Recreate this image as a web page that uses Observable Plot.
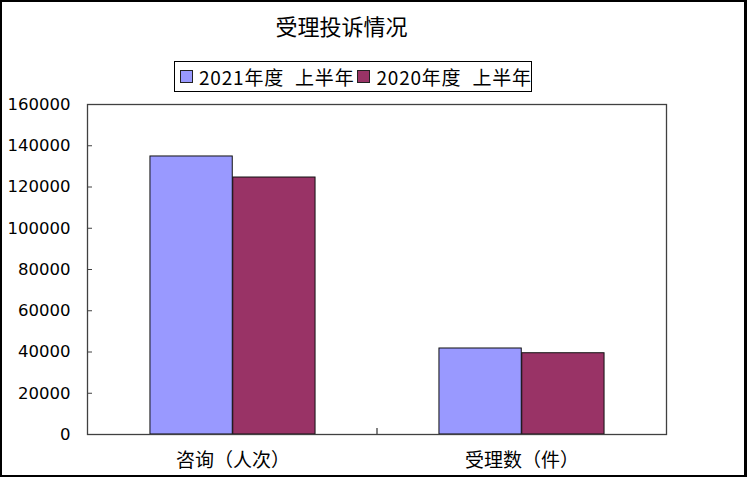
<!DOCTYPE html>
<html><head><meta charset="utf-8">
<script src="https://cdn.jsdelivr.net/npm/d3@7"></script>
<script src="https://cdn.jsdelivr.net/npm/@observablehq/plot@0.6"></script>
<style>
body{margin:0;background:#fff;}
#wrap{position:relative;width:749px;height:477px;background:#fff;overflow:hidden;}
#chart{position:absolute;left:0;top:0;}
#border{position:absolute;left:0;top:0;width:747px;height:477px;box-sizing:border-box;border-left:2px solid #000;border-top:2px solid #000;border-right:3px solid #000;border-bottom:2px solid #000;pointer-events:none;}
#title{position:absolute;left:0;top:11px;width:683px;text-align:center;font-family:"Noto Sans CJK SC",sans-serif;font-size:22px;line-height:28px;color:#000;}
#legend{position:absolute;left:174px;top:61px;width:358px;height:31px;box-sizing:border-box;border:1px solid #000;display:flex;align-items:center;padding-left:5px;font-family:"Noto Sans CJK SC",sans-serif;font-size:19px;letter-spacing:0.8px;color:#000;word-spacing:6px;white-space:nowrap;}
.sw{display:inline-block;width:13px;height:13px;box-sizing:border-box;border:1px solid #222;margin-right:6px;}
.it{display:flex;align-items:center;margin-right:3px;}
</style></head>
<body>
<div id="wrap">
  <div id="chart"></div>
  <div id="title"></div>
  <div id="legend"></div>
  <div id="border"></div>
</div>
<script>
const title = "受理投诉情况";
const categories = ["咨询（人次）", "受理数（件）"];
const seriesNames = ["2021年度 上半年", "2020年度 上半年"];
const values2021 = [134800, 41700];
const values2020 = [124600, 39400];
const yTicks = [0, 20000, 40000, 60000, 80000, 100000, 120000, 140000, 160000];
const colors = ["#9999FF", "#993366"];

const rows2021 = categories.map((c, i) => ({category: c, value: values2021[i]}));
const rows2020 = categories.map((c, i) => ({category: c, value: values2020[i]}));

const W = 749, H = 477;
const mL = 87, mR = 83, mT = 104, mB = 43;
const band = (W - mL - mR) / categories.length;

const chart = Plot.plot({
  width: W, height: H,
  marginLeft: mL, marginRight: mR, marginTop: mT, marginBottom: mB,
  style: {fontFamily: "'Noto Sans CJK SC', sans-serif", color: "#000", background: "#fff"},
  x: {domain: categories, padding: 0, label: null},
  y: {domain: [0, 160000], label: null},
  marks: [
    Plot.barY(rows2021, {x: "category", y: "value", fill: colors[0], stroke: "#111", strokeWidth: 1,
      insetLeft: band * 0.214, insetRight: band * 0.5}),
    Plot.barY(rows2020, {x: "category", y: "value", fill: colors[1], stroke: "#111", strokeWidth: 1,
      insetLeft: band * 0.5, insetRight: band * 0.214}),
    Plot.frame({stroke: "#404040", strokeWidth: 1.3}),
    Plot.axisY({ticks: yTicks, tickFormat: d => String(d), tickSize: -5, tickPadding: 22,
      fontSize: 16.5, fontFamily: "DejaVu Sans", stroke: "#404040", fill: "#000"}),
    Plot.axisX({tickSize: 0, tickPadding: 19, fontSize: 19, fill: "#000"})
  ]
});
document.getElementById("chart").appendChild(chart);

// boundary tick between categories, positioned by the x and y scales
const xs = chart.scale("x"), ys = chart.scale("y");
const bx = xs.apply(categories[1]);
const by = ys.apply(0);
d3.select(chart).append("line")
  .attr("x1", bx).attr("x2", bx).attr("y1", by).attr("y2", by - 6)
  .attr("stroke", "#404040").attr("stroke-width", 1.3);

document.getElementById("title").textContent = title;
const leg = d3.select("#legend");
seriesNames.forEach((s, i) => {
  const it = leg.append("div").attr("class", "it");
  it.append("span").attr("class", "sw").style("background", colors[i]);
  it.append("span").text(s);
});
</script>
</body></html>
